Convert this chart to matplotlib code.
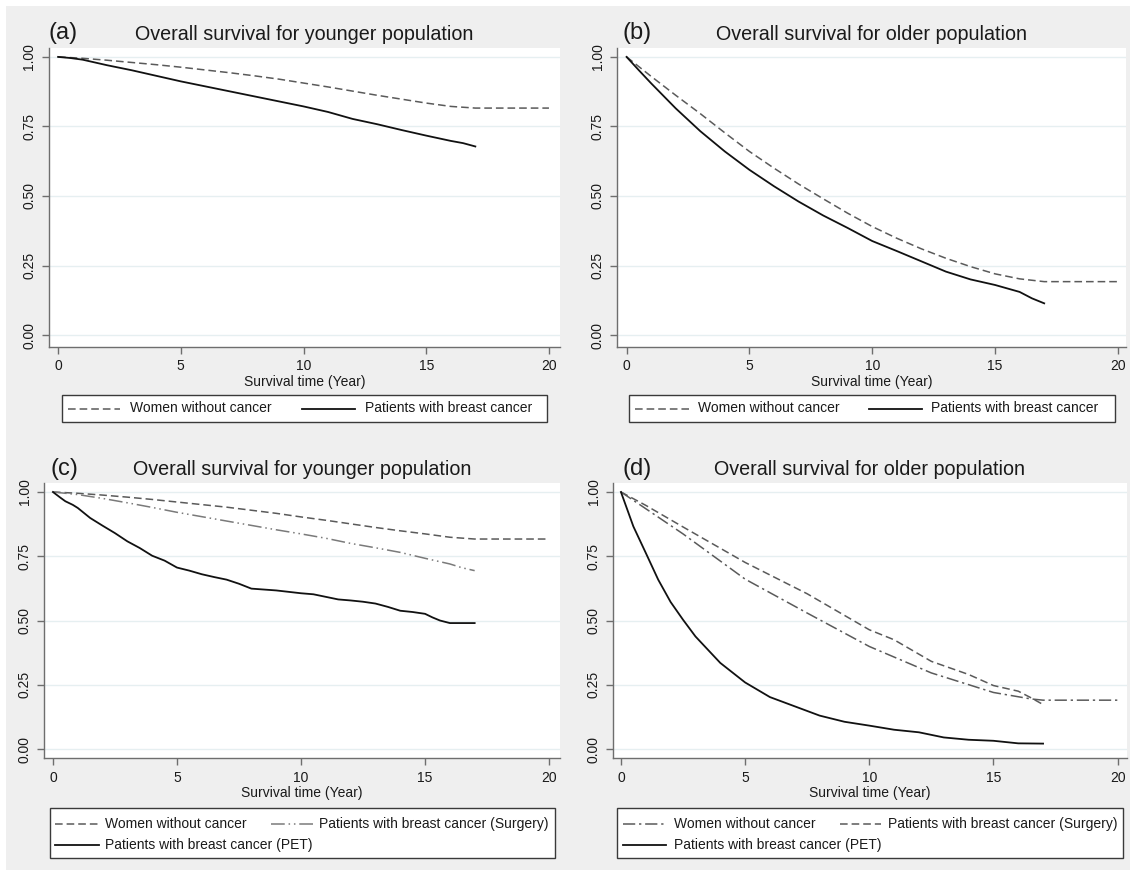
import matplotlib
matplotlib.use("Agg")
import matplotlib.pyplot as plt
from matplotlib.patches import Rectangle
from matplotlib.lines import Line2D

plt.rcParams["font.family"] = ["Liberation Sans", "DejaVu Sans"]

W, H = 1134, 873
BG = "#efefef"
GRID = "#e6eff1"
SPINE = "#6e6e6e"
INK = "#1a1a1a"

# ---- survival estimates (years, proportion surviving) ----
# (a) younger population
a_women_t = [0, 1, 2, 3, 4, 5, 6, 7, 8, 9, 10, 11, 12, 13, 14, 15, 16, 17, 20]
a_women_s = [1.0, 0.995, 0.988, 0.980, 0.972, 0.963, 0.953, 0.943, 0.932, 0.920,
             0.906, 0.892, 0.877, 0.862, 0.848, 0.834, 0.822, 0.816, 0.816]
a_bc_t = [0, 0.5, 1, 2, 3, 4, 5, 6, 7, 8, 9, 10, 11, 12, 13, 14, 15, 16, 16.5, 17]
a_bc_s = [1.0, 0.996, 0.990, 0.970, 0.952, 0.932, 0.912, 0.894, 0.876, 0.858,
          0.840, 0.822, 0.802, 0.777, 0.758, 0.737, 0.717, 0.698, 0.690, 0.678]

# (b) older population
b_women_t = [0, 1, 2, 3, 4, 5, 6, 7, 8, 9, 10, 11, 12, 13, 14, 15, 16, 17, 20]
b_women_s = [1.0, 0.930, 0.862, 0.796, 0.727, 0.660, 0.600, 0.543, 0.490, 0.438,
             0.390, 0.348, 0.310, 0.276, 0.246, 0.220, 0.202, 0.192, 0.192]
b_bc_t = [0, 0.5, 1, 2, 3, 4, 5, 6, 7, 8, 9, 10, 11, 12, 13, 14, 15, 16, 16.5, 17]
b_bc_s = [1.0, 0.952, 0.905, 0.815, 0.733, 0.660, 0.594, 0.535, 0.480, 0.430,
          0.385, 0.338, 0.302, 0.265, 0.228, 0.200, 0.180, 0.155, 0.132, 0.114]

# (c) younger population, by treatment
c_women_t = a_women_t
c_women_s = [1.0, 0.995, 0.988, 0.980, 0.971, 0.961, 0.951, 0.941, 0.929, 0.917,
             0.903, 0.890, 0.876, 0.862, 0.849, 0.837, 0.824, 0.817, 0.817]
c_surg_t = [0, 1, 2, 3, 4, 5, 6, 7, 8, 9, 10, 11, 12, 13, 14, 15, 16, 16.5, 17]
c_surg_s = [1.0, 0.990, 0.975, 0.958, 0.940, 0.921, 0.904, 0.887, 0.870, 0.853,
            0.837, 0.820, 0.800, 0.783, 0.765, 0.742, 0.720, 0.705, 0.694]
c_pet_t = [0, 0.3, 0.5, 0.8, 1, 1.5, 2, 2.5, 3, 3.5, 4, 4.5, 5, 5.5, 6, 6.5, 7, 7.5, 8,
           9, 10, 10.5, 11, 11.5, 12, 12.5, 13, 13.5, 14, 14.5, 15, 15.3, 15.6, 16, 17]
c_pet_s = [1.0, 0.978, 0.964, 0.950, 0.938, 0.899, 0.869, 0.840, 0.808, 0.782, 0.752,
           0.733, 0.706, 0.694, 0.680, 0.669, 0.659, 0.643, 0.624, 0.617, 0.606,
           0.602, 0.592, 0.582, 0.578, 0.573, 0.566, 0.553, 0.538, 0.533, 0.526,
           0.512, 0.500, 0.490, 0.490]

# (d) older population, by treatment
d_women_t = [0, 1, 2.5, 5, 7.5, 10, 12.5, 15, 16.5, 17, 20]
d_women_s = [1.0, 0.935, 0.837, 0.661, 0.529, 0.399, 0.296, 0.220, 0.195, 0.190, 0.190]
d_surg_t = [0, 1, 2.5, 5, 7.5, 10, 11, 12.5, 14, 15, 16, 16.5, 17]
d_surg_s = [1.0, 0.948, 0.864, 0.726, 0.604, 0.464, 0.425, 0.341, 0.290, 0.247,
            0.225, 0.200, 0.173]
d_pet_t = [0, 0.5, 1, 1.5, 2, 2.5, 3, 4, 5, 6, 7, 8, 9, 10, 11, 12, 13, 14, 15, 16, 17]
d_pet_s = [1.0, 0.866, 0.763, 0.659, 0.572, 0.503, 0.438, 0.335, 0.259, 0.202, 0.166,
           0.130, 0.106, 0.091, 0.075, 0.065, 0.045, 0.036, 0.032, 0.022, 0.021]

LBL_WOMEN = "Women without cancer"
LBL_BC = "Patients with breast cancer"
LBL_SURG = "Patients with breast cancer (Surgery)"
LBL_PET = "Patients with breast cancer (PET)"

DASH = dict(color="#5a5a5a", lw=1.1, dashes=(5, 2.6))
DASHDOT2 = dict(color="#7a7a7a", lw=1.1, dashes=(9, 2.5, 1, 2.5, 1, 2.5))
DASHDOT = dict(color="#5a5a5a", lw=1.1, dashes=(8, 2.5, 1.5, 2.5))
SOLID = dict(color="#111111", lw=1.3)


def px_rect(left, top, right, bottom):
    return [left / W, 1 - bottom / H, (right - left) / W, (bottom - top) / H]


fig = plt.figure(figsize=(W / 100, H / 100), dpi=100, facecolor="white")
fig.patches.append(Rectangle((6 / W, 3 / H), 1124 / W, 864 / H,
                             transform=fig.transFigure, facecolor=BG,
                             edgecolor="none", zorder=-10))


def style_axes(ax, xlim, ylim, title, tag, tag_xy):
    ax.set_facecolor("white")
    ax.set_xlim(*xlim)
    ax.set_ylim(*ylim)
    for s in ("top", "right"):
        ax.spines[s].set_visible(False)
    for s in ("left", "bottom"):
        ax.spines[s].set_color(SPINE)
        ax.spines[s].set_linewidth(1.0)
    ax.set_xticks([0, 5, 10, 15, 20])
    ax.set_yticks([0, 0.25, 0.5, 0.75, 1.0])
    ax.set_yticklabels(["0.00", "0.25", "0.50", "0.75", "1.00"],
                       rotation=90, va="center")
    ax.tick_params(axis="both", length=5, width=1.0, color=SPINE,
                   labelsize=10, labelcolor=INK, pad=4)
    ax.grid(axis="y", color=GRID, lw=1.0)
    ax.set_axisbelow(True)
    ax.set_xlabel("Survival time (Year)", fontsize=10, labelpad=1, color=INK)
    ax.set_title(title, fontsize=14.2, pad=6, color=INK)
    fig.text(tag_xy[0] / W, 1 - tag_xy[1] / H, tag, fontsize=17,
             va="center", ha="left", color=INK)


def key_box(box, entries):
    """Framed key drawn in figure pixels; entries are (style, x0, x1, xtext, y, label)."""
    left, top, right, bottom = box
    fig.patches.append(Rectangle((left / W, 1 - bottom / H),
                                 (right - left) / W, (bottom - top) / H,
                                 transform=fig.transFigure, facecolor="white",
                                 edgecolor="#3a3a3a", lw=1.0, zorder=5))
    for style, x0, x1, xt, y, label in entries:
        fy = 1 - y / H
        fig.add_artist(Line2D([x0 / W, x1 / W], [fy, fy],
                              transform=fig.transFigure, zorder=6, **style))
        fig.text(xt / W, fy, label, fontsize=10, color=INK,
                 ha="left", va="center", zorder=7)


# (a)
ax = fig.add_axes(px_rect(49, 48, 560, 347))
ax.plot(a_women_t, a_women_s, **DASH)
ax.plot(a_bc_t, a_bc_s, **SOLID)
style_axes(ax, (-0.37, 20.45), (-0.043, 1.032),
           "Overall survival for younger population", "(a)", (48, 33))
key_box((62, 395, 547, 422),
        [(DASH, 68, 120, 130, 408.5, LBL_WOMEN),
         (SOLID, 302, 355, 365, 408.5, LBL_BC)])

# (b)
ax = fig.add_axes(px_rect(617, 48, 1126, 347))
ax.plot(b_women_t, b_women_s, **DASH)
ax.plot(b_bc_t, b_bc_s, **SOLID)
style_axes(ax, (-0.39, 20.33), (-0.043, 1.032),
           "Overall survival for older population", "(b)", (622, 33))
key_box((629, 395, 1115, 422),
        [(DASH, 635, 689, 698, 408.5, LBL_WOMEN),
         (SOLID, 869, 922, 931, 408.5, LBL_BC)])

# (c)
ax = fig.add_axes(px_rect(44, 483, 560, 758))
ax.plot(c_women_t, c_women_s, **DASH)
ax.plot(c_surg_t, c_surg_s, **DASHDOT2)
ax.plot(c_pet_t, c_pet_s, **SOLID)
style_axes(ax, (-0.36, 20.44), (-0.035, 1.035),
           "Overall survival for younger population", "(c)", (50, 469))
key_box((50, 808, 555, 858),
        [(DASH, 55, 99, 105, 824, LBL_WOMEN),
         (DASHDOT2, 271, 313, 319, 824, LBL_SURG),
         (SOLID, 55, 99, 105, 845, LBL_PET)])

# (d)
ax = fig.add_axes(px_rect(613, 483, 1127, 758))
ax.plot(d_women_t, d_women_s, **DASHDOT)
ax.plot(d_surg_t, d_surg_s, **DASH)
ax.plot(d_pet_t, d_pet_s, **SOLID)
style_axes(ax, (-0.32, 20.38), (-0.035, 1.035),
           "Overall survival for older population", "(d)", (623, 469))
key_box((617, 808, 1123, 858),
        [(DASHDOT, 623, 666, 674, 824, LBL_WOMEN),
         (DASH, 840, 881, 888, 824, LBL_SURG),
         (SOLID, 623, 666, 674, 845, LBL_PET)])

fig.savefig("out.png", dpi=100, facecolor="white")
